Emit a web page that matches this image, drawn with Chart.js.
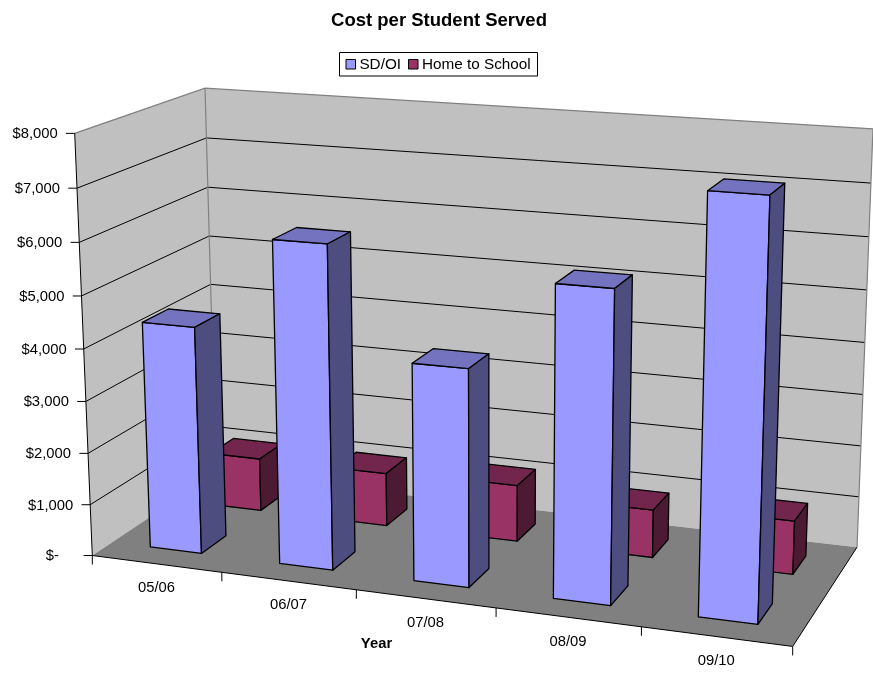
<!DOCTYPE html>
<html>
<head>
<meta charset="utf-8">
<title>Cost per Student Served</title>
<script src="https://cdn.jsdelivr.net/npm/chart.js@4/dist/chart.umd.min.js"></script>
<style>
  html, body { margin: 0; padding: 0; background: #fff; }
  canvas { display: block; }
</style>
</head>
<body>
<canvas id="chart-cost" width="873" height="673"></canvas>
<script>
const years = ['05/06', '06/07', '07/08', '08/09', '09/10'];
const sdOi = [4380, 6150, 4100, 5780, 7600];
const homeToSchool = [1060, 1055, 1110, 930, 1030];
const yTickValues = [0, 1000, 2000, 3000, 4000, 5000, 6000, 7000, 8000];
// trailing spaces keep the accounting-style indent of the zero label
const yTickLabels = ['$-    ', '$1,000', '$2,000', '$3,000', '$4,000', '$5,000', '$6,000', '$7,000', '$8,000'];

const FONT = "'Liberation Sans', Arial, sans-serif";
const WALL = '#c0c0c0';
const FLOOR = '#808080';
const EDGE = '#808080';

// Box corners on screen, as [u, v, w, x, y]: u along the years, v up the values, w into the depth
const boxCorners = [
  [0, 0, 0, 92.3, 556],
  [1, 0, 0, 792.7, 646],
  [0, 0, 1, 216, 472.5],
  [1, 0, 1, 857, 547.7],
  [0, 1, 0, 74.7, 133.3],
  [0, 1, 1, 205, 88.3],
  [1, 1, 1, 873, 128.7]
];

// Depth slots of the two rows of bars (front row first)
const ROW_DEPTH = [[0.15, 0.35], [0.65, 0.85]];

function solve(m, r) {
  const n = r.length;
  for (let i = 0; i < n; i++) {
    let best = i;
    for (let k = i + 1; k < n; k++) if (Math.abs(m[k][i]) > Math.abs(m[best][i])) best = k;
    [m[i], m[best]] = [m[best], m[i]];
    [r[i], r[best]] = [r[best], r[i]];
    for (let k = i + 1; k < n; k++) {
      const f = m[k][i] / m[i][i];
      for (let c = i; c < n; c++) m[k][c] -= f * m[i][c];
      r[k] -= f * r[i];
    }
  }
  const out = new Array(n).fill(0);
  for (let i = n - 1; i >= 0; i--) {
    let s = r[i];
    for (let c = i + 1; c < n; c++) s -= m[i][c] * out[c];
    out[i] = s / m[i][i];
  }
  return out;
}

// Least squares fit of the perspective camera to the box corners
function fitCamera(corners) {
  const rows = [], rhs = [];
  corners.forEach(([u, v, w, x, y]) => {
    rows.push([u, v, w, 1, 0, 0, 0, 0, -x * u, -x * v, -x * w]);
    rhs.push(x);
    rows.push([0, 0, 0, 0, u, v, w, 1, -y * u, -y * v, -y * w]);
    rhs.push(y);
  });
  const n = 11;
  const ata = [], atb = [];
  for (let i = 0; i < n; i++) {
    ata.push([]);
    atb.push(rows.reduce((s, row, k) => s + row[i] * rhs[k], 0));
    for (let j = 0; j < n; j++) ata[i].push(rows.reduce((s, row) => s + row[i] * row[j], 0));
  }
  return solve(ata, atb);
}

const cam = fitCamera(boxCorners);

function project(u, v, w) {
  const d = cam[8] * u + cam[9] * v + cam[10] * w + 1;
  return [
    (cam[0] * u + cam[1] * v + cam[2] * w + cam[3]) / d,
    (cam[4] * u + cam[5] * v + cam[6] * w + cam[7]) / d
  ];
}

function shade(hex, k) {
  const n = parseInt(hex.slice(1), 16);
  const c = [n >> 16, (n >> 8) & 255, n & 255].map(x => Math.round(x * k));
  return `rgb(${c[0]},${c[1]},${c[2]})`;
}

function poly(ctx, pts, fill, stroke, lw) {
  ctx.beginPath();
  pts.forEach((p, i) => i ? ctx.lineTo(p[0], p[1]) : ctx.moveTo(p[0], p[1]));
  if (fill) {
    ctx.closePath();
    ctx.fillStyle = fill;
    ctx.fill();
  }
  if (stroke) {
    ctx.strokeStyle = stroke;
    ctx.lineWidth = lw || 1;
    ctx.stroke();
  }
}

function drawBox(ctx, u0, u1, v, w0, w1, color) {
  const f0 = project(u0, 0, w0), f1 = project(u1, 0, w0), b1 = project(u1, 0, w1);
  const t0 = project(u0, v, w0), t1 = project(u1, v, w0), t2 = project(u1, v, w1), t3 = project(u0, v, w1);
  ctx.lineJoin = 'round';
  poly(ctx, [f0, f1, t1, t0], color, '#000', 1.3);
  poly(ctx, [t0, t1, t2, t3], shade(color, 0.75), '#000', 1.3);
  poly(ctx, [f1, b1, t2, t1], shade(color, 0.5), '#000', 1.3);
}

function drawText(ctx, text, x, y, align, font) {
  ctx.font = font;
  ctx.fillStyle = '#000';
  ctx.textAlign = align;
  ctx.textBaseline = 'middle';
  ctx.fillText(text, x, y);
}

const scene3d = {
  id: 'scene3d',
  // the flat bars are replaced by boxes built from their own element geometry
  beforeDatasetsDraw(chart) {
    const ctx = chart.ctx;
    const area = chart.chartArea;
    const yScale = chart.scales.y;
    const toU = px => (px - area.left) / (area.right - area.left);
    const toV = px => (area.bottom - px) / (area.bottom - area.top);

    ctx.save();

    // walls
    poly(ctx, [project(0, 0, 0), project(0, 1, 0), project(0, 1, 1), project(0, 0, 1)], WALL);
    poly(ctx, [project(0, 0, 1), project(0, 1, 1), project(1, 1, 1), project(1, 0, 1)], WALL);

    // gridlines run along the side wall and then the back wall
    yTickValues.forEach(val => {
      if (val === 0 || val === yTickValues[yTickValues.length - 1]) return;
      const v = toV(yScale.getPixelForValue(val));
      poly(ctx, [project(0, v, 0), project(0, v, 1), project(1, v, 1)], null, '#000', 1);
    });

    poly(ctx, [project(0, 1, 0), project(0, 1, 1), project(1, 1, 1), project(1, 0, 1)], null, EDGE, 1.2);
    poly(ctx, [project(0, 1, 1), project(0, 0, 1)], null, EDGE, 1.2);

    // floor
    poly(ctx, [project(0, 0, 0), project(1, 0, 0), project(1, 0, 1), project(0, 0, 1)], FLOOR);
    poly(ctx, [project(0, 1, 0), project(0, 0, 0), project(1, 0, 0), project(1, 0, 1)], null, '#000', 1);

    // value axis ticks and labels
    yTickValues.forEach((val, i) => {
      const v = toV(yScale.getPixelForValue(val));
      const p = project(0, v, 0);
      poly(ctx, [[p[0] - 8.7, p[1]], p], null, '#000', 1);
      drawText(ctx, yTickLabels[i], p[0] - 17, p[1] + 0.7, 'right', `14.8px ${FONT}`);
    });

    // category ticks sit between the years, labels under the middle of each
    const n = years.length;
    for (let i = 0; i <= n; i++) {
      const p = project(i / n, 0, 0);
      poly(ctx, [p, [p[0], p[1] + 9]], null, '#000', 1);
    }
    years.forEach((label, i) => {
      const p = project(toU(chart.scales.x.getPixelForValue(i)), 0, 0);
      drawText(ctx, label, p[0], p[1] + 24.3, 'center', `14.8px ${FONT}`);
    });
    drawText(ctx, 'Year', 376.5, 644, 'center', `bold 14.8px ${FONT}`);

    // back row first so the front row paints over it
    for (let d = chart.data.datasets.length - 1; d >= 0; d--) {
      const meta = chart.getDatasetMeta(d);
      const color = chart.data.datasets[d].backgroundColor;
      meta.data.forEach(bar => {
        const half = bar.width / 2;
        drawBox(ctx, toU(bar.x - half), toU(bar.x + half), toV(bar.y),
          ROW_DEPTH[d][0], ROW_DEPTH[d][1], color);
      });
    }

    // legend box
    ctx.fillStyle = '#fff';
    ctx.fillRect(339.5, 52.5, 198, 23.5);
    ctx.strokeStyle = '#000';
    ctx.lineWidth = 1;
    ctx.strokeRect(339.5, 52.5, 198, 23.5);
    const swatchX = [346, 408.5];
    chart.data.datasets.forEach((ds, i) => {
      ctx.fillStyle = ds.backgroundColor;
      ctx.fillRect(swatchX[i], 59.5, 9.5, 9.5);
      ctx.strokeStyle = '#000';
      ctx.lineWidth = 1;
      ctx.strokeRect(swatchX[i], 59.5, 9.5, 9.5);
      drawText(ctx, ds.label, swatchX[i] + 13.4, 64.6, 'left', `15.3px ${FONT}`);
    });

    ctx.restore();
    return false;
  }
};

new Chart(document.getElementById('chart-cost'), {
  type: 'bar',
  data: {
    labels: years,
    datasets: [
      { label: 'SD/OI', data: sdOi, backgroundColor: '#9999ff' },
      { label: 'Home to School', data: homeToSchool, backgroundColor: '#993366' }
    ]
  },
  options: {
    responsive: false,
    animation: false,
    layout: { padding: { left: 5 } },
    datasets: { bar: { grouped: false, categoryPercentage: 1, barPercentage: 0.4 } },
    plugins: {
      legend: { display: false },
      tooltip: { enabled: false },
      title: {
        display: true,
        text: 'Cost per Student Served',
        color: '#000',
        font: { family: FONT, size: 18.5, weight: 'bold' },
        padding: { top: 10, bottom: 10 }
      }
    },
    scales: {
      x: { display: false },
      y: { display: false, min: 0, max: 8000 }
    }
  },
  plugins: [scene3d]
});
</script>
</body>
</html>
